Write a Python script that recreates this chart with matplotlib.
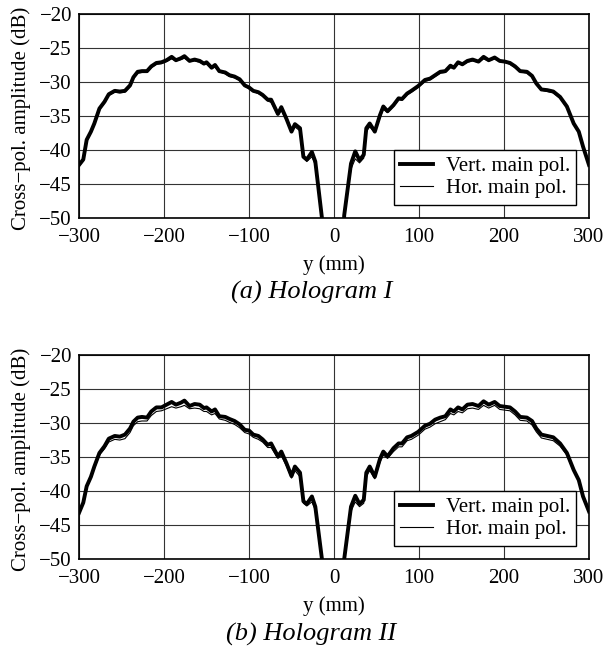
import numpy as np
import matplotlib
matplotlib.use("Agg")
import matplotlib.pyplot as plt

plt.rcParams['font.family'] = ['Liberation Serif', 'DejaVu Serif']
plt.rcParams['axes.unicode_minus'] = True

# y positions (mm), shared by both holograms
y_mm = [-300, -295, -291, -286, -282, -276, -270, -265, -258, -252,
        -246, -240, -236, -231, -226, -220, -215, -209, -203, -197,
        -191, -186, -180, -176, -170, -164, -158, -153, -150, -144,
        -140, -135, -128, -123, -117, -111, -105, -100, -95, -89,
        -84, -78, -74, -66, -62, -56, -50, -46, -40, -36,
        -32, -26, -22, -14, -10, -5, 0,
        5, 10, 12, 20, 25, 30, 35, 38, 42, 48,
        54, 58, 63, 70, 76, 80, 86, 91, 99, 107,
        113, 119, 125, 131, 137, 141, 146, 151, 157, 163,
        170, 176, 182, 189, 195, 201, 207, 213, 219, 227,
        233, 238, 244, 251, 258, 266, 274, 282, 288, 293,
        300]

# Hologram I
holo1_vert = [-42.2, -41.4, -38.5, -37.3, -36.1, -33.9, -32.9, -31.8, -31.3, -31.4,
              -31.3, -30.5, -29.3, -28.5, -28.4, -28.4, -27.7, -27.2, -27.1, -26.8,
              -26.3, -26.8, -26.5, -26.2, -26.9, -26.7, -26.9, -27.3, -27.1, -27.9,
              -27.5, -28.4, -28.6, -29.0, -29.2, -29.6, -30.5, -30.8, -31.3, -31.5,
              -31.9, -32.6, -32.6, -34.7, -33.7, -35.4, -37.3, -36.2, -36.8, -41.0,
              -41.4, -40.3, -41.7, -50.2, -55.0, -60.0, -63.0,
              -60.0, -55.0, -49.6, -42.0, -40.2, -41.5, -40.7, -36.8, -36.1, -37.3,
              -34.9, -33.6, -34.3, -33.4, -32.4, -32.5, -31.7, -31.3, -30.6, -29.7,
              -29.5, -29.0, -28.5, -28.4, -27.6, -27.9, -27.1, -27.4, -26.9, -26.7,
              -27.0, -26.3, -26.8, -26.4, -26.9, -27.0, -27.2, -27.7, -28.4, -28.5,
              -29.1, -30.2, -31.1, -31.2, -31.4, -32.2, -33.6, -36.1, -37.3, -39.5,
              -42.2]
holo1_hor = [-42.4, -41.6, -38.8, -37.5, -36.3, -34.1, -33.1, -32.0, -31.5, -31.6,
             -31.5, -30.7, -29.5, -28.7, -28.6, -28.6, -27.9, -27.4, -27.3, -27.0,
             -26.6, -26.9, -26.7, -26.5, -27.0, -26.9, -27.1, -27.4, -27.3, -28.0,
             -27.8, -28.5, -28.8, -29.2, -29.4, -29.8, -30.6, -31.0, -31.4, -31.7,
             -32.1, -32.8, -33.0, -34.8, -34.2, -35.6, -37.4, -36.6, -37.2, -41.2,
             -41.7, -41.0, -42.2, -50.5, -55.5, -60.5, -63.5,
             -60.5, -55.5, -50.0, -42.8, -41.3, -41.9, -41.2, -37.3, -36.6, -37.4,
             -35.3, -34.0, -34.5, -33.6, -32.6, -32.7, -31.9, -31.5, -30.8, -29.9,
             -29.7, -29.2, -28.7, -28.6, -27.9, -28.0, -27.3, -27.5, -27.1, -26.9,
             -27.1, -26.6, -26.9, -26.6, -27.0, -27.1, -27.4, -27.9, -28.5, -28.7,
             -29.3, -30.4, -31.2, -31.4, -31.6, -32.4, -33.8, -36.2, -37.5, -39.6,
             -42.3]

# Hologram II
holo2_vert = [-43.2, -41.7, -39.3, -37.9, -36.4, -34.4, -33.4, -32.3, -31.9, -32.0,
              -31.7, -30.8, -29.8, -29.2, -29.1, -29.2, -28.3, -27.7, -27.7, -27.3,
              -26.9, -27.3, -27.0, -26.7, -27.5, -27.2, -27.3, -27.8, -27.7, -28.3,
              -28.0, -29.0, -29.1, -29.4, -29.7, -30.2, -31.0, -31.1, -31.7, -31.9,
              -32.4, -33.2, -33.0, -34.9, -34.2, -35.9, -37.8, -36.4, -37.3, -41.5,
              -41.9, -40.8, -42.3, -50.2, -55.0, -60.0, -63.0,
              -60.0, -55.0, -50.0, -42.3, -40.7, -41.9, -41.3, -37.3, -36.4, -37.9,
              -35.3, -34.2, -34.9, -33.7, -33.0, -33.0, -32.1, -31.9, -31.3, -30.4,
              -30.1, -29.5, -29.2, -29.0, -28.0, -28.3, -27.7, -28.0, -27.3, -27.2,
              -27.5, -26.8, -27.3, -26.9, -27.5, -27.6, -27.7, -28.3, -29.1, -29.2,
              -29.7, -30.8, -31.7, -31.9, -32.1, -33.0, -34.4, -36.9, -38.4, -40.8,
              -43.0]
holo2_hor = [-43.3, -41.9, -39.5, -38.1, -36.7, -34.7, -33.8, -32.8, -32.4, -32.5,
             -32.3, -31.4, -30.4, -29.8, -29.7, -29.7, -28.9, -28.3, -28.2, -27.9,
             -27.6, -27.8, -27.6, -27.4, -27.9, -27.8, -27.9, -28.3, -28.3, -28.8,
             -28.6, -29.4, -29.6, -29.9, -30.2, -30.7, -31.4, -31.6, -32.1, -32.4,
             -32.8, -33.6, -33.6, -35.2, -34.8, -36.3, -38.1, -37.0, -37.9, -41.8,
             -42.2, -41.6, -42.8, -50.6, -55.5, -60.5, -63.5,
             -60.5, -55.5, -50.4, -43.0, -41.6, -42.3, -41.8, -37.9, -37.0, -38.2,
             -35.8, -34.7, -35.2, -34.2, -33.5, -33.5, -32.6, -32.4, -31.8, -30.9,
             -30.6, -30.1, -29.8, -29.5, -28.6, -28.8, -28.3, -28.5, -27.9, -27.8,
             -28.0, -27.4, -27.8, -27.4, -28.0, -28.1, -28.2, -28.8, -29.6, -29.7,
             -30.3, -31.3, -32.2, -32.4, -32.6, -33.4, -34.7, -37.1, -38.6, -40.9,
             -43.1]

captions = ["(a) Hologram I", "(b) Hologram II"]
xticks = [-300, -200, -100, 0, 100, 200, 300]
yticks = [-50, -45, -40, -35, -30, -25, -20]

fig = plt.figure(figsize=(6.15, 6.48), dpi=100)

boxes = [[0.1285, 0.6636, 0.8292, 0.3148],
         [0.1285, 0.1373, 0.8292, 0.3148]]
data = [(holo1_vert, holo1_hor), (holo2_vert, holo2_hor)]
caption_y = [0.549, 0.0216]

for box, (vert, hor), cap, cy in zip(boxes, data, captions, caption_y):
    ax = fig.add_axes(box)
    ax.plot(y_mm, vert, color='black', lw=2.8, label='Vert. main pol.')
    ax.plot(y_mm, hor, color='black', lw=0.8, label='Hor. main pol.')
    ax.set_xlim(-300, 300)
    ax.set_ylim(-50, -20)
    ax.set_xticks(xticks)
    ax.set_yticks(yticks)
    ax.grid(True, color='#333333', lw=0.8)
    ax.tick_params(direction='in', length=0, labelsize=15)
    ax.tick_params(axis='x', pad=7.5)
    ax.tick_params(axis='y', pad=5)
    for s in ax.spines.values():
        s.set_linewidth(1.2)
    ax.set_xlabel('y (mm)', fontsize=15, va='center')
    ax.xaxis.set_label_coords(0.5, -0.232)
    ax.set_ylabel('Cross\u2212pol. amplitude (dB)', fontsize=15, va='center')
    ax.yaxis.set_label_coords(-0.114, 0.49)
    leg = ax.legend(loc='lower right', fontsize=15, fancybox=False,
                    edgecolor='black', framealpha=1, borderpad=0.3,
                    borderaxespad=0, handlelength=1.6, handletextpad=0.6,
                    labelspacing=0.12, bbox_to_anchor=(0.975, 0.066))
    leg.get_frame().set_linewidth(1.0)
    fig.text(0.506, cy, cap, ha='center', va='center', fontsize=19,
             style='italic')

fig.savefig('out.png', dpi=100)
